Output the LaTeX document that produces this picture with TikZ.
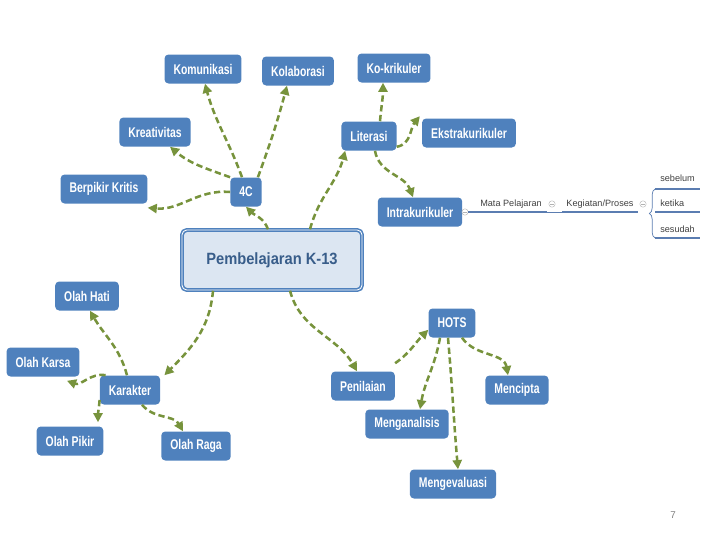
\documentclass[tikz,border=0pt]{standalone}
\usepackage{fontspec}
\setmainfont{Liberation Sans}
\newfontfamily\topicfont[FakeStretch=0.74]{Liberation Sans}
\newfontfamily\corefont[FakeStretch=0.9]{Liberation Sans}
\usetikzlibrary{arrows.meta,decorations.pathreplacing}
\definecolor{nodeblue}{HTML}{4F81BD}
\definecolor{arrowgreen}{HTML}{77933C}
\definecolor{corefill}{HTML}{DCE6F2}
\definecolor{coretext}{HTML}{385D8A}
\definecolor{twiggray}{HTML}{404040}
\definecolor{twigblue}{HTML}{5B7DB1}

\begin{document}
\begin{tikzpicture}[x=0.25mm,y=0.25mm]
			\tikzset{topic/.style={rectangle,rounded corners=1mm,fill=nodeblue,text=white,font=\topicfont\bfseries\fontsize{10}{12}\selectfont,minimum height=7.25mm,inner xsep=2.25mm}}
			\tikzset{core/.style={rectangle,rounded corners=1.2mm,fill=corefill,draw=nodeblue,line width=1.1pt,double=white,double distance=0.6pt,text=coretext,font=\corefont\bfseries\fontsize{11.6}{13}\selectfont,minimum width=45mm,minimum height=15mm}}
			\tikzset{link/.style={draw=arrowgreen,line width=1.8pt,dash pattern=on 4.5pt off 2.5pt,-{Triangle[length=6.5pt,width=6.5pt]}}}
			\tikzset{twig/.style={font=\fontsize{6.5}{7}\selectfont,text=twiggray,inner sep=0pt}}
			\tikzset{twigline/.style={draw=twigblue,line width=1.2pt}}
			\tikzset{knob/.style={circle,draw=gray!60,line width=0.3pt,minimum size=1.6mm,inner sep=0pt,path picture={\draw[gray!60,line width=0.3pt] ([xshift=-0.45mm]path picture bounding box.center) -- ([xshift=0.45mm]path picture bounding box.center);}}}
			\useasboundingbox (0,0) rectangle (720,-540);
			% main topic and branches
			\node[core] (core) at (272,-260) {Pembelajaran K-13};
			\node[topic] (komunikasi) at (203,-69) {Komunikasi};
			\node[topic] (kolaborasi) at (298,-71) {Kolaborasi};
			\node[topic] (kokrikuler) at (394,-68) {Ko-krikuler};
			\node[topic] (kreativitas) at (155,-132) {Kreativitas};
			\node[topic] (literasi) at (369,-136) {Literasi};
			\node[topic] (ekstra) at (469,-133) {Ekstrakurikuler};
			\node[topic] (berpikir) at (104,-189) {Berpikir Kritis};
			\node[topic] (fourc) at (246,-192) {4C};
			\node[topic] (intra) at (420,-212) {Intrakurikuler};
			\node[topic] (olahhati) at (87,-296) {Olah Hati};
			\node[topic] (olahkarsa) at (43,-362) {Olah Karsa};
			\node[topic] (karakter) at (130,-390) {Karakter};
			\node[topic] (olahpikir) at (70,-441) {Olah Pikir};
			\node[topic] (olahraga) at (196,-446) {Olah Raga};
			\node[topic] (hots) at (452,-323) {HOTS};
			\node[topic] (penilaian) at (363,-386) {Penilaian};
			\node[topic] (mencipta) at (517,-390) {Mencipta};
			\node[topic] (menganalisis) at (407,-424) {Menganalisis};
			\node[topic] (mengevaluasi) at (453,-484) {Mengevaluasi};
			% connectors
			\draw[link] ([xshift=-1mm]core.north) to[out=110,in=-45] (fourc.south);
			\draw[link] ([xshift=9.5mm]core.north) to[out=75,in=-105] ([xshift=1mm]literasi.south west);
			\draw[link] ([xshift=-1mm]fourc.north) to[out=110,in=-75] ([xshift=0.5mm]komunikasi.south);
			\draw[link] ([xshift=-1mm]fourc.north east) to[out=70,in=-105] ([xshift=-2.75mm]kolaborasi.south);
			\draw[link] (fourc.north west) to[out=160,in=-40] ([xshift=3.75mm]kreativitas.south);
			\draw[link] (fourc.west) to[out=175,in=-5] ([yshift=-1mm]berpikir.south east);
			\draw[link] ([xshift=2.75mm]literasi.north) to[out=85,in=-90] ([xshift=-2.75mm]kokrikuler.south);
			\draw[link] ([yshift=1mm]literasi.south east) to[out=10,in=-130] ([xshift=-0.5mm,yshift=0.5mm]ekstra.north west);
			\draw[link] ([xshift=1.5mm]literasi.south) to[out=-80,in=110] ([xshift=-1.75mm]intra.north);
			\draw[link] ([xshift=-14.75mm]core.south) to[out=-95,in=45] ([xshift=1mm]karakter.north east);
			\draw[link] ([xshift=4.5mm]core.south) to[out=-75,in=120] ([xshift=-1.5mm]penilaian.north);
			\draw[link] ([xshift=-0.75mm]karakter.north) to[out=105,in=-60] ([xshift=0.75mm]olahhati.south);
			\draw[link] ([xshift=1.5mm]karakter.north west) to[out=170,in=-20] ([xshift=6mm,yshift=-1mm]olahkarsa.south);
			\draw[link] ([yshift=-2.5mm]karakter.west) to[out=-95,in=90] ([xshift=7mm,yshift=1mm]olahpikir.north);
			\draw[link] ([xshift=3mm]karakter.south) to[out=-50,in=120] ([xshift=-3.25mm]olahraga.north);
			\draw[link] ([yshift=2mm]penilaian.north east) to[out=35,in=-135] ([yshift=2mm]hots.south west);
			\draw[link] ([xshift=-3mm]hots.south) to[out=-100,in=80] ([xshift=3.25mm]menganalisis.north);
			\draw[link] ([xshift=-1mm]hots.south) to[out=-85,in=95] ([xshift=1.25mm]mengevaluasi.north);
			\draw[link] ([xshift=2.5mm]hots.south) to[out=-55,in=100] ([xshift=-2.25mm]mencipta.north);
			% sub-tree beside Intrakurikuler
			\node[knob] (k1) at (465,-212) {};
			\node[twig] (mapel) at (511,-204) {Mata Pelajaran};
			\node[knob] (k2) at (552,-204) {};
			\node[twig] (proses) at (600,-204) {Kegiatan/Proses};
			\node[knob] (k3) at (643,-204) {};
			\node[twig,anchor=west] (sebelum) at (660,-178) {sebelum};
			\node[twig,anchor=west] (ketika) at (660,-203) {ketika};
			\node[twig,anchor=west] (sesudah) at (660,-229) {sesudah};
			\coordinate (m2) at (547,-212);
			\coordinate (p1) at (562,-212);
			\coordinate (p2) at (638,-212);
			\coordinate (b1) at (655,-189);
			\coordinate (b2) at (655,-212);
			\coordinate (b3) at (655,-238);
			\coordinate (e1) at (700,-189);
			\coordinate (e2) at (700,-212);
			\coordinate (e3) at (700,-238);
			\draw[twigline] (k1.east) -- (m2);
			\draw[twigline,line width=0.5pt] (m2) -- (p1);
			\draw[twigline] (p1) -- (p2);
			\draw[twigline,line width=0.5pt,decorate,decoration={brace,amplitude=4pt}] (b3) -- (b1);
			\draw[twigline] (b1) -- (e1);
			\draw[twigline] (b2) -- (e2);
			\draw[twigline] (b3) -- (e3);
			\node[font=\fontsize{7}{8}\selectfont,text=gray] (pagenum) at (673,-515) {7};
\end{tikzpicture}
\end{document}
